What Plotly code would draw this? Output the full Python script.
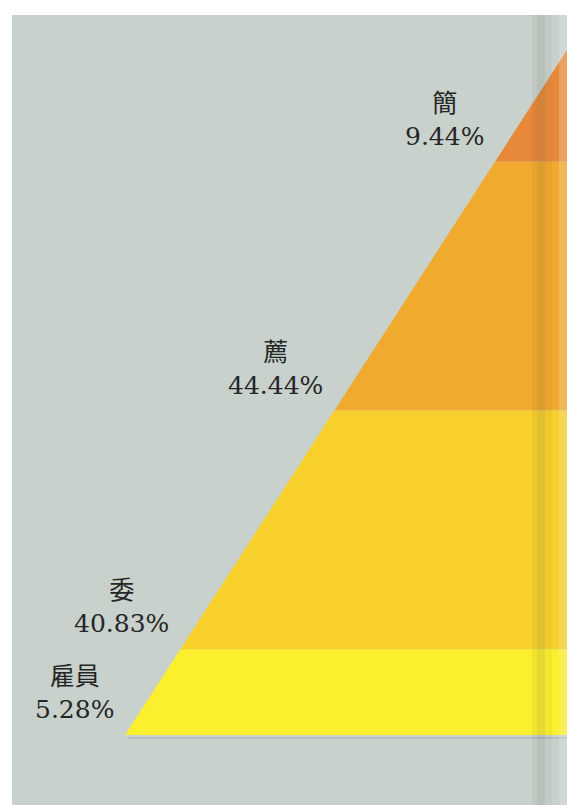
import numpy as np
import plotly.graph_objects as go

# Staff composition by grade, top of the pyramid first
categories = ["簡", "薦", "委", "雇員"]
shares = [9.44, 44.44, 40.83, 5.28]
labels = ["9.44%", "44.44%", "40.83%", "5.28%"]

band_colors = ["#e8893a", "#f0aa2e", "#f8d02c", "#fbef2e"]

W, H = 567, 805
apex_y, base_y = 47, 735          # vertical extent of the pyramid
base_x, apex_x = 125, 569         # left end of the slanted edge at base / apex
right_x = 580                      # bands run off the right edge of the page


def edge_x(y):
    """x position of the slanted edge at height y."""
    return base_x + (base_y - y) * (apex_x - base_x) / (base_y - apex_y)


# band heights scale with the square root of each share
weights = np.sqrt(np.array(shares))
heights = weights / weights.sum() * (base_y - apex_y)
bottoms = apex_y + np.cumsum(heights)
tops = bottoms - heights

fig = go.Figure()

for cat, top, bot, col in zip(categories, tops, bottoms, band_colors):
    xs = [edge_x(top), right_x, right_x, edge_x(bot), edge_x(top)]
    ys = [top, top, bot, bot, top]
    fig.add_trace(go.Scatter(
        x=xs, y=ys, mode="lines", fill="toself", fillcolor=col,
        line=dict(width=0), name=cat, hoverinfo="name", showlegend=False,
    ))

for cat, lab, bot in zip(categories, labels, bottoms):
    fig.add_annotation(
        x=edge_x(bot) - 9, y=bot - 9, xref="x", yref="y",
        xanchor="right", yanchor="bottom", align="center",
        text=f"{cat}<br>{lab}", showarrow=False,
        font=dict(family="DejaVu Serif, Noto Sans CJK TC", size=25, color="#262626"),
    )

shapes = [
    # grey page
    dict(type="rect", x0=12, x1=W, y0=15, y1=H, fillcolor="#c8d1cc",
         line=dict(width=0), layer="below"),
    # thin rule under the base
    dict(type="line", x0=base_x + 2, x1=W, y0=base_y + 3, y1=base_y + 3,
         line=dict(color="#b3c0c6", width=2), layer="above"),
    # binding shadow near the right edge
    dict(type="rect", x0=532, x1=537, y0=15, y1=H, fillcolor="rgba(70,70,60,0.06)",
         line=dict(width=0), layer="above"),
    dict(type="rect", x0=537, x1=545, y0=15, y1=H, fillcolor="rgba(70,70,60,0.12)",
         line=dict(width=0), layer="above"),
    dict(type="rect", x0=545, x1=552, y0=15, y1=H, fillcolor="rgba(70,70,60,0.05)",
         line=dict(width=0), layer="above"),
    dict(type="rect", x0=559, x1=W, y0=15, y1=H, fillcolor="rgba(240,240,232,0.22)",
         line=dict(width=0), layer="above"),
]

fig.update_layout(
    width=W, height=H,
    margin=dict(l=0, r=0, t=0, b=0),
    paper_bgcolor="white", plot_bgcolor="white",
    shapes=shapes,
    xaxis=dict(range=[0, W], visible=False, fixedrange=True),
    yaxis=dict(range=[H, 0], visible=False, fixedrange=True),
    showlegend=False,
)

fig.write_html("out.html")
